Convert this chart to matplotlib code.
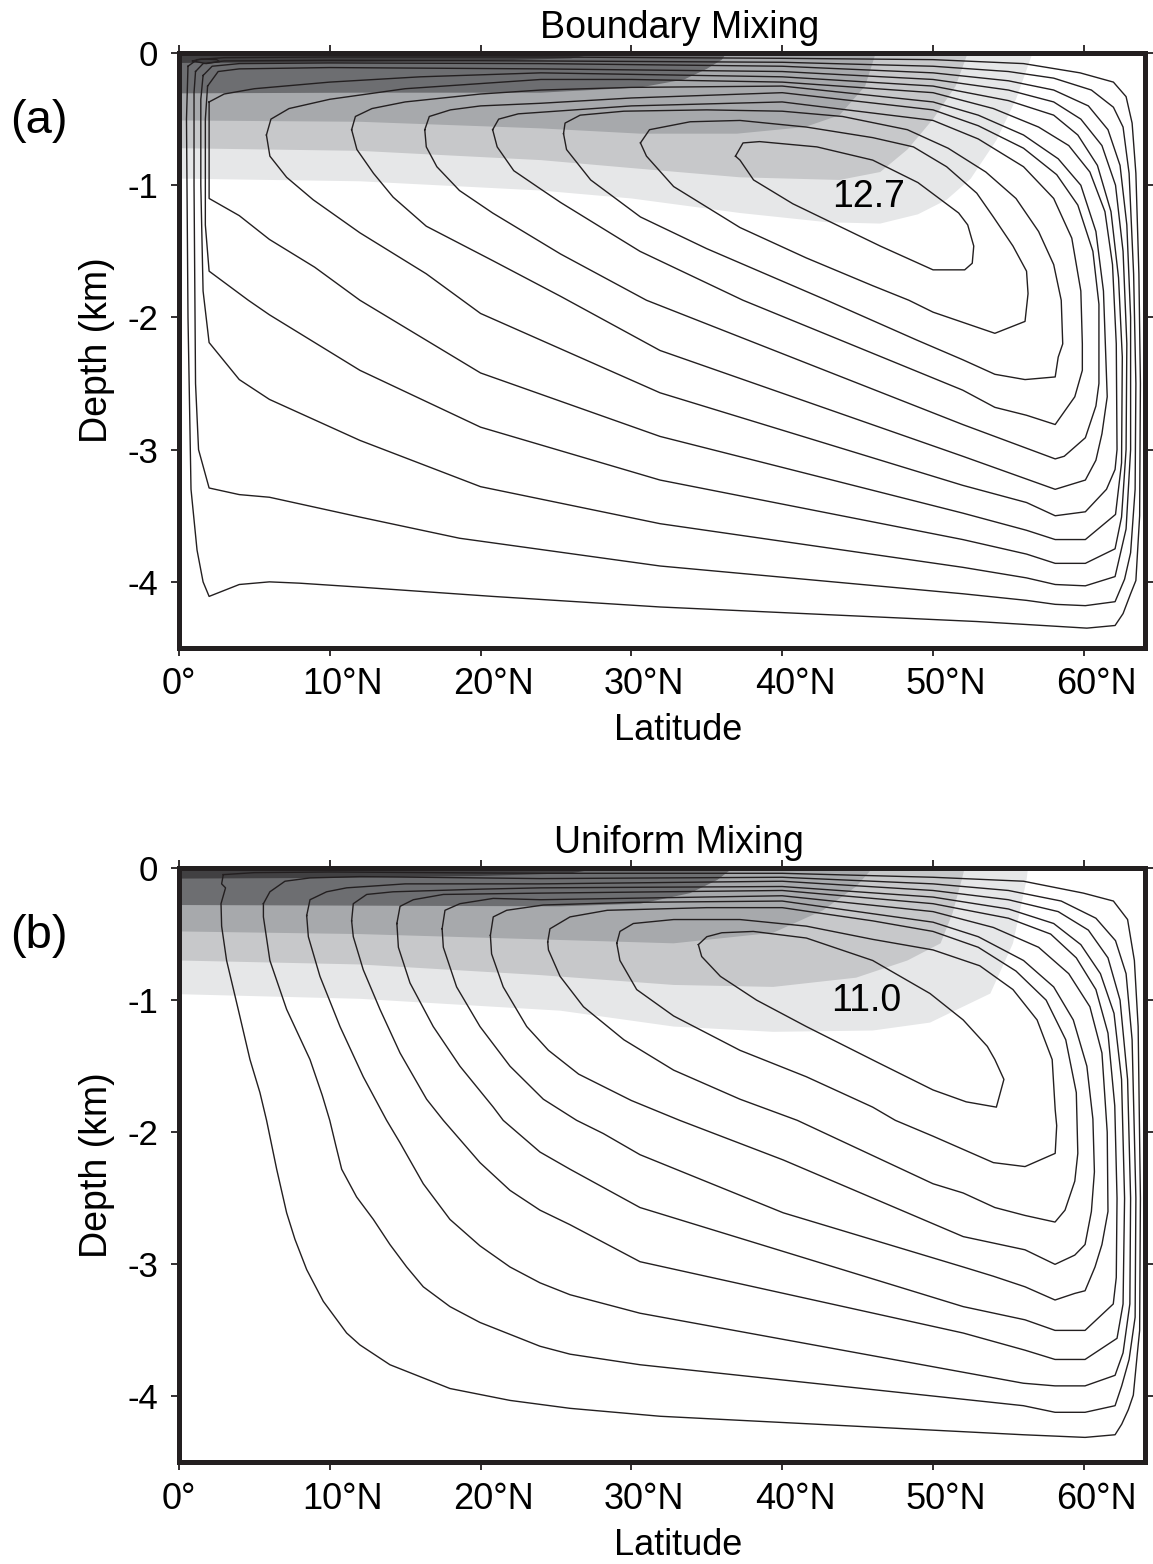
import matplotlib
matplotlib.use("Agg")
import matplotlib.pyplot as plt
from matplotlib.transforms import ScaledTranslation

plt.rcParams["font.family"] = ["Liberation Sans", "DejaVu Sans"]

# ---- data: (latitude, depth km) ----
# panel (a) streamfunction contours, outermost first
A_C1 = [(0.6,0.10),(1.2,0.05),(3,0.035),(10,0.03),(24,0.03),(40,0.04),(50,0.05),(56,0.08),(59.75,0.15),(61.96,0.22),(62.8,0.33),(63.2,0.53),(63.45,0.91),(63.65,1.67),(63.75,2.5),(63.7,3.5),(63.45,3.99),(63.1,4.09),(62.6,4.24),(62.07,4.33),(60.2,4.35),(52.9,4.30),(31.9,4.19),(20.8,4.11),(12.0,4.04),(8.0,4.01),(6.0,4.0),(4.0,4.02),(2.0,4.11),(1.6,4.0),(1.2,3.76),(0.8,3.3),(0.6,2.0),(0.5,0.5),(0.6,0.10)]
A_C2 = [(1.1,0.14),(1.6,0.08),(3,0.06),(10,0.055),(24,0.06),(40,0.07),(50,0.10),(55,0.14),(58,0.19),(60.5,0.28),(61.96,0.41),(62.6,0.56),(63.0,0.91),(63.3,1.67),(63.45,2.5),(63.4,3.3),(63.1,3.78),(62.7,3.98),(62.07,4.15),(60.1,4.18),(58.1,4.17),(56.2,4.14),(51.97,4.09),(31.9,3.88),(18.6,3.67),(12.0,3.51),(6.0,3.36),(4.0,3.34),(2.0,3.29),(1.3,3.0),(1.1,2.5),(1.0,1.0),(1.0,0.3),(1.1,0.14)]
A_C3 = [(1.6,0.17),(2.2,0.10),(4,0.08),(10,0.075),(24,0.08),(40,0.10),(50,0.15),(55,0.21),(58,0.28),(60.3,0.40),(61.6,0.58),(62.4,0.85),(62.85,1.3),(63.1,2.0),(63.1,3.0),(62.8,3.6),(62.07,3.96),(60.1,4.03),(58.1,4.02),(56.2,3.97),(51.97,3.89),(31.9,3.56),(20.0,3.28),(12.0,2.93),(6.0,2.62),(4.0,2.47),(2.0,2.19),(1.6,1.8),(1.45,1.0),(1.45,0.35),(1.6,0.17)]
A_C4 = [(1.9,0.25),(2.6,0.14),(4,0.12),(10,0.11),(24,0.12),(40,0.14),(50,0.20),(55,0.28),(58,0.37),(59.8,0.50),(61.2,0.70),(62.1,1.0),(62.6,1.5),(62.85,2.2),(62.8,3.0),(62.5,3.51),(62.07,3.75),(60.1,3.86),(58.1,3.86),(56.2,3.79),(51.97,3.68),(31.9,3.23),(20.0,2.83),(12.0,2.40),(6.0,1.98),(4.6,1.87),(2.0,1.65),(1.75,1.3),(1.75,0.5),(1.9,0.25)]
A_C5 = [(2.0,0.37),(3.0,0.31),(5,0.27),(10,0.22),(16,0.18),(24,0.15),(40,0.18),(50,0.25),(55,0.36),(58,0.47),(59.6,0.62),(60.9,0.85),(61.8,1.2),(62.3,1.7),(62.55,2.3),(62.5,3.1),(62.1,3.49),(60.1,3.68),(58.1,3.68),(56.2,3.61),(51.97,3.48),(31.9,2.90),(20.0,2.42),(12.0,1.87),(9,1.62),(6.0,1.41),(4.0,1.23),(2.0,1.10),(2.0,0.37)]
A_C6 = [(5.8,0.62),(6.1,0.50),(7.3,0.42),(10,0.35),(15,0.27),(24,0.20),(30,0.20),(40,0.22),(50,0.30),(54,0.42),(57,0.56),(59,0.70),(60.4,0.90),(61.4,1.2),(61.9,1.6),(62.15,2.2),(62.2,3.0),(62.07,3.15),(61.5,3.30),(60.1,3.47),(58.1,3.50),(56.2,3.40),(51.97,3.27),(31.9,2.57),(20,1.97),(18.2,1.82),(16.4,1.67),(12.0,1.36),(8.9,1.11),(7.14,0.94),(6.03,0.78),(5.8,0.62)]
A_C7 = [(11.45,0.58),(11.7,0.48),(12.8,0.42),(15,0.37),(20,0.31),(24,0.28),(30,0.26),(40,0.25),(50,0.37),(53,0.47),(56,0.62),(58.3,0.80),(59.8,1.0),(60.8,1.35),(61.3,1.8),(61.55,2.6),(61.2,2.88),(60.8,3.08),(60.1,3.23),(58.1,3.30),(51.97,3.05),(31.9,2.25),(25.3,1.84),(20.8,1.57),(16.4,1.31),(14.2,1.09),(12.9,0.91),(11.8,0.73),(11.45,0.58)]
A_C8 = [(16.3,0.58),(16.6,0.48),(18,0.43),(20,0.40),(24,0.38),(30,0.34),(40,0.30),(50,0.43),(53,0.55),(56,0.72),(58.2,0.92),(59.6,1.15),(60.6,1.5),(61.0,1.9),(61.0,2.5),(60.8,2.67),(60.1,2.91),(58.7,3.05),(58.1,3.07),(51.97,2.81),(31.0,1.87),(25.3,1.52),(20.8,1.21),(18.6,1.04),(17.1,0.86),(16.4,0.71),(16.3,0.58)]
A_C9 = [(20.8,0.58),(21.2,0.50),(22.5,0.46),(25,0.44),(30,0.40),(40,0.37),(50,0.51),(53,0.65),(56,0.86),(58.0,1.1),(59.2,1.4),(59.8,1.8),(59.9,2.2),(59.9,2.40),(59.4,2.60),(58.1,2.81),(56.2,2.74),(54.1,2.68),(51.97,2.55),(37.4,1.87),(30.57,1.50),(25.3,1.13),(24,1.03),(22.2,0.89),(21.1,0.71),(20.8,0.58)]
A_C10 = [(25.5,0.61),(25.6,0.53),(26.6,0.47),(29.5,0.44),(35,0.43),(40,0.44),(44,0.48),(48.3,0.58),(51,0.72),(53.5,0.90),(55.5,1.1),(57.0,1.35),(58.0,1.6),(58.5,1.87),(58.6,2.20),(58.3,2.30),(58.1,2.45),(56.1,2.47),(54.1,2.43),(51.97,2.32),(48.9,2.17),(42.95,1.87),(35,1.48),(30.6,1.24),(27.3,0.96),(25.7,0.73),(25.5,0.61)]
A_C11 = [(30.6,0.68),(31.2,0.58),(33.9,0.52),(37.2,0.51),(41.6,0.56),(46.0,0.64),(48.7,0.71),(50.9,0.86),(52.9,1.06),(54.0,1.24),(55.3,1.46),(56.2,1.65),(56.3,1.82),(56.1,2.03),(54.1,2.12),(50.0,1.96),(48.4,1.87),(46.0,1.76),(41.6,1.55),(37.2,1.32),(32.8,1.01),(31.0,0.78),(30.6,0.68)]
A_C12 = [(36.9,0.78),(37.4,0.68),(38.5,0.67),(42.3,0.71),(46.0,0.81),(49.0,0.98),(51.7,1.21),(52.3,1.30),(52.7,1.46),(52.6,1.59),(52.1,1.64),(50.0,1.64),(46.5,1.46),(40.7,1.14),(38.1,0.96),(37.2,0.81),(36.9,0.78)]
A_EDDY = [(0.9,0.06),(1.5,0.045),(2.5,0.05),(2.7,0.065),(1.8,0.08),(0.9,0.06)]

# panel (b) contours, outermost first
B_C1 = [(2.94,0.05),(5,0.035),(10,0.03),(24,0.04),(40,0.04),(50,0.07),(56,0.10),(59.97,0.19),(61.96,0.25),(62.9,0.39),(63.35,0.70),(63.6,1.2),(63.75,2.5),(63.7,3.5),(63.55,3.67),(63.28,3.99),(62.95,4.10),(62.51,4.21),(62.07,4.29),(60.08,4.31),(55.99,4.29),(31.9,4.15),(25.93,4.09),(21.95,4.03),(17.97,3.94),(13.99,3.76),(12.0,3.61),(11.12,3.52),(9.57,3.28),(8.47,3.04),(7.69,2.81),(7.14,2.61),(6.48,2.28),(5.81,1.91),(5.37,1.70),(4.71,1.45),(3.93,1.07),(3.16,0.70),(2.83,0.44),(2.79,0.27),(3.09,0.15),(2.83,0.12),(2.94,0.05)]
B_C2 = [(5.6,0.27),(6.03,0.18),(7.03,0.10),(8.69,0.075),(12,0.065),(24,0.08),(40,0.07),(50,0.12),(55,0.17),(58.5,0.25),(60.8,0.38),(62.1,0.55),(62.8,0.8),(63.2,1.3),(63.45,2.5),(63.4,3.4),(63.0,3.72),(62.51,3.92),(62.07,4.07),(60.08,4.12),(58.09,4.12),(55.99,4.07),(30.57,3.76),(25.93,3.68),(23.94,3.62),(21.95,3.53),(19.96,3.44),(17.97,3.32),(16.2,3.17),(15.1,3.02),(13.99,2.85),(12.89,2.66),(11.78,2.49),(10.79,2.28),(10.4,2.1),(10.0,1.91),(9.5,1.72),(8.69,1.45),(7.14,1.07),(6.03,0.70),(5.6,0.37),(5.6,0.27)]
B_C3 = [(8.47,0.36),(8.69,0.24),(9.79,0.18),(11.12,0.15),(15,0.12),(24,0.12),(40,0.10),(50,0.17),(55,0.24),(58.3,0.33),(60.3,0.47),(61.6,0.68),(62.4,1.0),(62.9,1.6),(63.1,2.5),(63.05,3.3),(62.6,3.67),(62.07,3.84),(60.08,3.92),(58.09,3.92),(55.99,3.90),(30.57,3.37),(25.93,3.23),(23.94,3.14),(21.95,3.02),(19.96,2.86),(17.97,2.66),(16.2,2.39),(14.66,2.08),(13.77,1.91),(12.22,1.58),(10.68,1.20),(9.35,0.82),(8.58,0.52),(8.47,0.36)]
B_C4 = [(11.45,0.40),(11.56,0.27),(12.45,0.20),(14.2,0.18),(20,0.16),(24,0.15),(40,0.14),(50,0.22),(55,0.31),(58,0.42),(59.8,0.58),(61.1,0.80),(62.0,1.1),(62.5,1.6),(62.7,2.5),(62.6,3.3),(62.2,3.56),(60.08,3.72),(58.09,3.72),(56.1,3.65),(52.0,3.52),(30.57,2.98),(25.93,2.70),(23.94,2.59),(21.95,2.44),(19.96,2.23),(17.53,1.91),(16.42,1.75),(14.66,1.40),(13.33,1.07),(12.22,0.77),(11.56,0.52),(11.45,0.40)]
B_C5 = [(14.45,0.42),(14.66,0.29),(15.54,0.24),(17.53,0.20),(24,0.19),(40,0.17),(50,0.27),(55,0.38),(57.8,0.50),(59.5,0.68),(60.8,0.92),(61.6,1.25),(62.05,1.8),(62.2,2.5),(62.15,3.1),(61.95,3.3),(60.08,3.50),(58.09,3.50),(56.1,3.42),(52.0,3.32),(30.57,2.57),(25.93,2.28),(23.94,2.15),(21.5,1.91),(20.84,1.81),(18.63,1.50),(16.86,1.20),(15.32,0.87),(14.55,0.60),(14.45,0.42)]
B_C6 = [(17.45,0.46),(17.64,0.32),(18.63,0.27),(20.84,0.23),(24,0.24),(40,0.21),(50,0.33),(54,0.45),(57,0.60),(59.0,0.80),(60.4,1.05),(61.2,1.4),(61.55,2.0),(61.6,2.6),(61.2,2.85),(60.74,3.02),(60.08,3.20),(59.4,3.22),(58.09,3.27),(56.1,3.17),(54.0,3.09),(52.0,3.02),(40.07,2.61),(30.57,2.17),(28.14,2.01),(26.37,1.91),(24.16,1.75),(21.95,1.50),(19.96,1.20),(18.41,0.90),(17.53,0.60),(17.45,0.46)]
B_C7 = [(20.65,0.51),(20.84,0.37),(21.73,0.32),(24.16,0.28),(30,0.26),(40,0.25),(50,0.41),(53,0.52),(56,0.70),(58,0.90),(59.3,1.15),(60.2,1.5),(60.6,1.9),(60.7,2.3),(60.5,2.6),(60.08,2.85),(59.4,2.93),(58.09,3.00),(56.1,2.89),(52.0,2.79),(40.07,2.21),(33.2,1.91),(30,1.76),(26.5,1.56),(24.5,1.38),(23.06,1.20),(21.5,0.90),(20.73,0.65),(20.65,0.51)]
B_C8 = [(24.45,0.56),(24.6,0.46),(25.93,0.37),(28.4,0.32),(35,0.30),(40,0.30),(46,0.40),(50,0.48),(53,0.60),(55.5,0.78),(57.5,1.0),(58.8,1.3),(59.5,1.7),(59.6,2.16),(59.4,2.37),(58.75,2.59),(58.09,2.68),(56.1,2.63),(54.1,2.57),(52.0,2.46),(50.0,2.39),(41.0,1.91),(37.2,1.75),(32.8,1.53),(29.5,1.30),(26.82,1.05),(25.27,0.82),(24.5,0.62),(24.45,0.56)]
B_C9 = [(29.03,0.57),(29.24,0.48),(30.13,0.42),(32.8,0.39),(37.2,0.39),(41.6,0.44),(46.0,0.54),(50.0,0.62),(53.1,0.74),(55.3,0.92),(56.9,1.15),(57.9,1.45),(58.1,1.83),(58.2,1.95),(58.1,2.16),(56.1,2.26),(54.0,2.23),(50.0,2.03),(47.5,1.91),(46.0,1.81),(41.6,1.58),(37.2,1.38),(32.8,1.12),(30.35,0.92),(29.24,0.70),(29.03,0.57)]
B_C10 = [(34.44,0.58),(35.0,0.52),(36.0,0.49),(38.08,0.48),(41.6,0.53),(46.0,0.70),(49.8,0.95),(52.0,1.15),(53.6,1.35),(54.1,1.45),(54.7,1.60),(54.2,1.81),(52.2,1.77),(50.0,1.68),(46.3,1.47),(41.6,1.20),(38.3,1.0),(35.9,0.82),(34.66,0.67),(34.44,0.58)]

# gray shading: lower edge of each band, from the west wall to where it meets the surface
A_BAND1 = [(0,0.075),(10,0.07),(20,0.06),(26,0.04),(28,0.0)]
A_BAND2 = [(0,0.305),(12,0.30),(24,0.30),(30.6,0.26),(33.5,0.20),(35.0,0.12),(36.0,0.05),(36.3,0)]
A_BAND3 = [(0,0.51),(12,0.52),(24,0.57),(30.6,0.61),(37,0.61),(41.5,0.56),(43.8,0.47),(45.5,0.25),(46.2,0)]
A_BAND4 = [(0,0.72),(12,0.74),(24,0.81),(30,0.87),(37.2,0.94),(43.8,0.96),(46.5,0.90),(48.3,0.73),(50,0.5),(51.5,0.25),(52.3,0)]
A_BAND5 = [(0,0.95),(12,0.97),(24,1.04),(30,1.10),(37.2,1.21),(43,1.28),(46.5,1.29),(49,1.22),(50.9,1.11),(52.5,0.95),(54.2,0.66),(55.5,0.35),(56.6,0)]

B_BAND1 = [(0,0.08),(10,0.075),(20,0.06),(26,0.04),(28,0)]
B_BAND2 = [(0,0.28),(25.3,0.29),(30.6,0.27),(33.9,0.19),(35.7,0.09),(36.5,0.02),(36.6,0)]
B_BAND3 = [(0,0.48),(12,0.50),(23.9,0.54),(32.8,0.57),(39.4,0.49),(42.7,0.32),(44.9,0.14),(46.0,0)]
B_BAND4 = [(0,0.70),(12,0.73),(23.9,0.81),(32.8,0.885),(39.4,0.90),(44.9,0.83),(48.3,0.70),(50.5,0.57),(51.3,0.34),(51.9,0.09),(52.1,0)]
B_BAND5 = [(0,0.955),(12,0.99),(25.3,1.08),(32.8,1.20),(39.4,1.24),(46.0,1.23),(49.8,1.17),(53.8,0.95),(55.3,0.57),(56.2,0.09),(56.3,0)]

BAND_COLORS = ["#414042", "#6d6e71", "#a7a9ac", "#c7c8ca", "#e6e7e8"]

lat_ticks = [0, 10, 20, 30, 40, 50, 60]
lat_labels = ["0°", "10°N", "20°N", "30°N", "40°N", "50°N", "60°N"]
depth_ticks = [0, -1, -2, -3, -4]
depth_labels = ["0", "-1", "-2", "-3", "-4"]

FRAME = "#231f20"


def draw_panel(ax, contours, bands, title, tag, maxlabel, labelpos):
    # bands, lightest (deepest) first
    for band, col in zip(bands[::-1], BAND_COLORS[::-1]):
        xs = [0] + [p[0] for p in band]
        ys = [0] + [-p[1] for p in band]
        ax.fill(xs, ys, color=col, lw=0, zorder=1)
    for c in contours:
        ax.plot([p[0] for p in c], [-p[1] for p in c], color="#231f20", lw=1.0, zorder=2)

    ax.set_xlim(0, 64.05)
    ax.set_ylim(-4.5, 0)
    ax.set_xticks(lat_ticks)
    ax.set_xticklabels(lat_labels, fontsize=26)
    ax.set_yticks(depth_ticks)
    ax.set_yticklabels(depth_labels, fontsize=25)
    ax.tick_params(direction="out", length=6, width=1.3, color=FRAME,
                   top=True, right=True, labeltop=False, labelright=False)
    ax.tick_params(axis="x", pad=8)
    ax.tick_params(axis="y", pad=9)
    for sp in ax.spines.values():
        sp.set_linewidth(3.6)
        sp.set_color(FRAME)
    # GMT-style: number centred on the tick, the N hangs to the right
    fig = ax.figure
    for lab in ax.get_xticklabels():
        if lab.get_text().endswith("N"):
            lab.set_transform(lab.get_transform() + ScaledTranslation(0.13, 0, fig.dpi_scale_trans))

    ax.set_xlabel("Latitude", fontsize=26)
    ax.xaxis.set_label_coords(0.517, -0.11)
    ax.set_ylabel("Depth (km)", fontsize=27)
    ax.yaxis.set_label_coords(-0.066, 0.5)
    ax.text(0.518, 1.012, title, transform=ax.transAxes, ha="center", va="bottom", fontsize=27)
    ax.text(-0.145, 0.885, tag, transform=ax.transAxes, ha="center", va="center", fontsize=34)
    ax.text(labelpos[0], -labelpos[1], maxlabel, ha="center", va="center", fontsize=27, zorder=3)


fig = plt.figure(figsize=(11.53, 15.64), dpi=100)
ax_a = fig.add_axes([0.1552, 0.5857, 0.8378, 0.3804])
ax_b = fig.add_axes([0.1552, 0.0649, 0.8378, 0.3801])

draw_panel(ax_a, [A_C1, A_C2, A_C3, A_C4, A_C5, A_C6, A_C7, A_C8, A_C9, A_C10, A_C11, A_C12, A_EDDY],
           [A_BAND1, A_BAND2, A_BAND3, A_BAND4, A_BAND5], "Boundary Mixing", "(a)", "12.7", (45.7, 1.09))
draw_panel(ax_b, [B_C1, B_C2, B_C3, B_C4, B_C5, B_C6, B_C7, B_C8, B_C9, B_C10],
           [B_BAND1, B_BAND2, B_BAND3, B_BAND4, B_BAND5], "Uniform Mixing", "(b)", "11.0", (45.6, 1.01))

fig.savefig("out.png", dpi=100)
